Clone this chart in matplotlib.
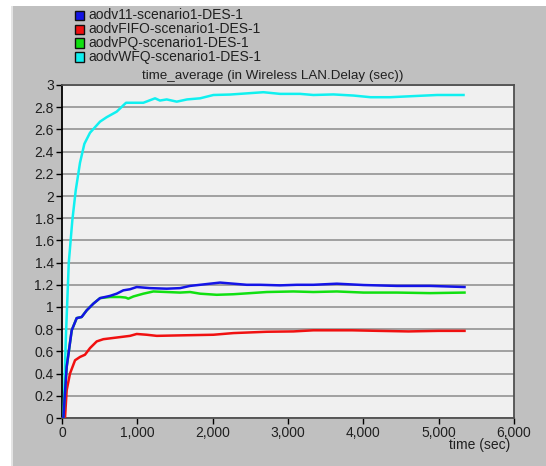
import matplotlib
matplotlib.use("Agg")
import matplotlib.pyplot as plt
from matplotlib.patches import Rectangle
from matplotlib.ticker import FuncFormatter, MultipleLocator
import numpy as np

plt.rcParams['font.family'] = ['Liberation Sans', 'DejaVu Sans']

names = ["aodv11-scenario1-DES-1", "aodvFIFO-scenario1-DES-1",
         "aodvPQ-scenario1-DES-1", "aodvWFQ-scenario1-DES-1"]
colors = ["#1414e6", "#f01010", "#10e010", "#10f0f0"]

t_blue = [18, 62, 129, 195, 261, 328, 416, 505, 637, 726, 814, 903, 992, 1169, 1390, 1567,
          1700, 1833, 1965, 2098, 2275, 2452, 2630, 2895, 3116, 3337, 3648, 4002, 4445, 4887, 5343]
v_blue = [0, 0.46, 0.79, 0.90, 0.91, 0.97, 1.03, 1.08, 1.10, 1.12, 1.15, 1.16, 1.18, 1.17, 1.165, 1.17,
          1.19, 1.20, 1.21, 1.22, 1.21, 1.20, 1.20, 1.195, 1.20, 1.20, 1.21, 1.198, 1.19, 1.19, 1.18]

t_red = [40, 62, 106, 173, 239, 305, 372, 461, 549, 726, 903, 992, 1125, 1258, 1611, 2010,
         2275, 2718, 3072, 3337, 3850, 4200, 4600, 5000, 5343]
v_red = [0, 0.25, 0.40, 0.52, 0.55, 0.57, 0.63, 0.69, 0.71, 0.725, 0.74, 0.757, 0.75, 0.74, 0.745, 0.75,
         0.765, 0.777, 0.78, 0.79, 0.79, 0.785, 0.78, 0.785, 0.785]

t_green = [18, 62, 129, 195, 261, 328, 416, 505, 637, 770, 845, 880, 948, 1080, 1213, 1390, 1567,
           1700, 1833, 2054, 2275, 2500, 2718, 3072, 3337, 3648, 4002, 4445, 4887, 5343]
v_green = [0, 0.46, 0.79, 0.90, 0.91, 0.97, 1.03, 1.08, 1.09, 1.09, 1.085, 1.075, 1.095, 1.12, 1.14, 1.135, 1.13,
           1.135, 1.12, 1.11, 1.115, 1.125, 1.135, 1.14, 1.135, 1.14, 1.13, 1.13, 1.125, 1.13]

t_cyan = [20, 50, 90, 137, 182, 239, 297, 372, 505, 593, 726, 850, 992, 1080, 1235, 1300, 1390,
          1523, 1660, 1833, 2010, 2231, 2673, 2895, 3161, 3337, 3603, 3869, 4095, 4357, 4665, 4980, 5330]
v_cyan = [0, 0.7, 1.4, 1.78, 2.05, 2.30, 2.47, 2.57, 2.67, 2.71, 2.76, 2.84, 2.84, 2.84, 2.88, 2.86, 2.87,
          2.85, 2.87, 2.88, 2.91, 2.914, 2.935, 2.92, 2.92, 2.91, 2.915, 2.905, 2.89, 2.89, 2.90, 2.91, 2.91]

series = [(t_blue, v_blue), (t_red, v_red), (t_green, v_green), (t_cyan, v_cyan)]
x_ticks = [0, 1000, 2000, 3000, 4000, 5000, 6000]

W, H = 546, 466
fig = plt.figure(figsize=(W / 100, H / 100), dpi=100, facecolor="white")

# background panels
fig.patches.append(Rectangle((11 / W, 0), 2 / W, (H - 6) / H, transform=fig.transFigure,
                             facecolor="#e4e4e4", edgecolor="none", zorder=-2))
fig.patches.append(Rectangle((13 / W, 0), 1 - 13 / W, (H - 6) / H, transform=fig.transFigure,
                             facecolor="#c0c0c0", edgecolor="none", zorder=-2))

ax = fig.add_axes([62 / W, (H - 418) / H, (514 - 62) / W, (418 - 85) / H])
ax.set_zorder(1)
ax.set_facecolor("#f0f0f0")

# draw order: green under blue
order = [3, 1, 2, 0]
for i in order:
    t, v = series[i]
    ax.plot(t, v, color=colors[i], lw=1.8, solid_joinstyle="round", zorder=3)

ax.set_xlim(0, 6000)
ax.set_ylim(0, 3)
ax.set_xticks(x_ticks)
ax.yaxis.set_major_locator(MultipleLocator(0.2))
ax.xaxis.set_major_formatter(FuncFormatter(lambda x, p: f"{int(round(x)):,}"))
ax.yaxis.set_major_formatter(FuncFormatter(lambda y, p: f"{y:.1f}".rstrip("0").rstrip(".")))
ax.grid(axis="y", color="#9a9a9a", lw=1.3)
ax.set_axisbelow(True)
for s in ["top", "right", "bottom"]:
    ax.spines[s].set_color("#505050")
    ax.spines[s].set_linewidth(1.3)
ax.spines["left"].set_color("black")
ax.spines["left"].set_linewidth(1.3)
ax.tick_params(axis="both", direction="out", length=4, width=1, colors="black",
               labelsize=10, pad=2, labelcolor="#202020")

fig.text(273 / W, 1 - 76 / H, "time_average (in Wireless LAN.Delay (sec))",
         fontsize=9.6, ha="center", va="center", color="#202020")
fig.text(510 / W, 1 - 445 / H, "time (sec)", fontsize=10, ha="right", va="center", color="#202020")

# legend
for k, (nm, c) in enumerate(zip(names, colors)):
    yc = 15 + 14 * k
    fig.patches.append(Rectangle((75 / W, 1 - (yc + 4.5) / H), 9 / W, 9 / H, transform=fig.transFigure,
                                 facecolor=c, edgecolor="#101010", lw=1.0, zorder=2))
    fig.text(88 / W, 1 - yc / H, nm, fontsize=10, ha="left", va="center", color="#202020")

fig.savefig("out.png", dpi=100, facecolor=fig.get_facecolor())
